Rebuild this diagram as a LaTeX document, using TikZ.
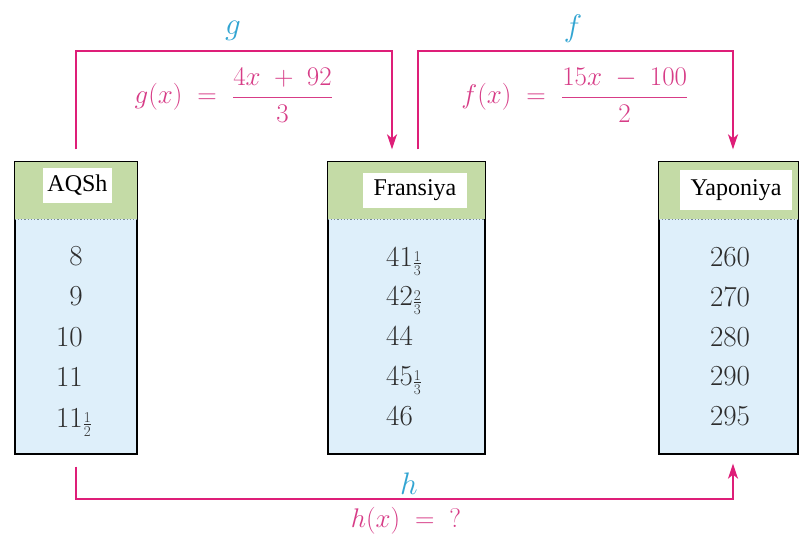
\documentclass[tikz,border=0pt]{standalone}
\usepackage{graphicx}
\usepackage{fontspec}
\newfontfamily\hdrfont{Liberation Serif}
\usetikzlibrary{arrows.meta}
\definecolor{lnpink}{RGB}{222,30,120}
\definecolor{fpink}{RGB}{215,60,135}
\definecolor{lblcyan}{RGB}{50,165,210}
\definecolor{hdrgreen}{RGB}{196,219,166}
\definecolor{bodyblue}{RGB}{222,239,250}
\definecolor{dotgray}{RGB}{120,140,150}
\definecolor{numgray}{RGB}{45,45,45}
\newcommand{\bigtxt}[2][1.3]{\scalebox{#1}{\fontsize{20.74}{24}\selectfont #2}}
\newcommand{\myfr}[2]{$\vcenter{\offinterlineskip\halign{\hfil\fontsize{15}{15}\selectfont##\hfil\cr #1\cr\noalign{\kern1.5pt\hrule height 0.7pt\kern1.5pt}#2\cr}}$}
\newcommand{\mixfr}[3]{\bigtxt[1.4]{#1}\kern1pt\myfr{#2}{#3}}
\begin{document}
\begin{tikzpicture}[x=1pt,y=-1pt,
 tbox/.style={draw=black,line width=1.3pt,fill=bodyblue,rectangle,inner sep=0pt},
 hlabel/.style={fill=white,inner sep=0pt,font=\hdrfont\fontsize{24}{26}\selectfont},
 num/.style={text=numgray,inner sep=0pt},
 conn/.style={draw=lnpink,line width=1.8pt},
 arr/.style={conn,-{Stealth[length=15pt,width=10pt,inset=4pt]}},
 fname/.style={text=lblcyan,inner sep=0pt},
 formula/.style={text=fpink,inner sep=0pt}]
\useasboundingbox[fill=white] (0,0) rectangle (801,535);

% boxes
\node[tbox,minimum width=122pt,minimum height=292pt] (A) at (76,308) {};
\node[tbox,minimum width=157pt,minimum height=292pt] (F) at (406.5,308) {};
\node[tbox,minimum width=139pt,minimum height=292pt] (Y) at (728.5,308) {};
\foreach \b in {A,F,Y} {
  \fill[hdrgreen] (\b.north west) rectangle ([yshift=-58pt]\b.north east);
  \draw[dotgray,line width=1.3pt,dotted] ([yshift=-58pt]\b.north west) -- ([yshift=-58pt]\b.north east);
  \draw[line width=1.3pt] (\b.north west) rectangle (\b.south east);
}

% header labels
\node[hlabel,minimum width=69pt,minimum height=35pt] (la) at (77.5,185.5) {AQSh};
\node[hlabel,minimum width=104pt,minimum height=35pt] (lf) at (415,190.5) {Fransiya};
\node[hlabel,minimum width=112pt,minimum height=40pt] (ly) at (736,190) {Yaponiya};

% numbers AQSh
\node[num,anchor=base east] (a1) at (83,265) {\bigtxt[1.4]{8}};
\node[num,anchor=base east] (a2) at (83,305) {\bigtxt[1.4]{9}};
\node[num,anchor=base east] (a3) at (83,346) {\bigtxt[1.4]{10}};
\node[num,anchor=base east] (a4) at (83,386) {\bigtxt[1.4]{11}};
\node[num,anchor=base west] (a5) at ([yshift=-41pt]a4.base west) {\mixfr{11}{1}{2}};
% numbers Fransiya
\node[num,anchor=base west] (f1) at (386,266) {\mixfr{41}{1}{3}};
\node[num,anchor=base west] (f2) at (386,305) {\mixfr{42}{2}{3}};
\node[num,anchor=base west] (f3) at (386,345) {\bigtxt[1.4]{44}};
\node[num,anchor=base west] (f4) at (386,385) {\mixfr{45}{1}{3}};
\node[num,anchor=base west] (f5) at (386,425) {\bigtxt[1.4]{46}};
% numbers Yaponiya
\node[num,anchor=base] (y1) at (730,266) {\bigtxt[1.4]{260}};
\node[num,anchor=base] (y2) at (730,306) {\bigtxt[1.4]{270}};
\node[num,anchor=base] (y3) at (730,346) {\bigtxt[1.4]{280}};
\node[num,anchor=base] (y4) at (730,385) {\bigtxt[1.4]{290}};
\node[num,anchor=base] (y5) at (730,425) {\bigtxt[1.4]{295}};

% connectors
\coordinate (top) at (0,51);
\coordinate (bot) at (0,499);
\draw[arr] ([yshift=12pt]A.north) -- (A.north |- top) -| ([xshift=-14.5pt,yshift=12pt]F.north);
\draw[arr] ([xshift=11.5pt,yshift=12pt]F.north) -- ([xshift=11.5pt]F.north |- top) -| ([xshift=4.5pt,yshift=12pt]Y.north);
\draw[arr] ([yshift=-12pt]A.south) -- (A.south |- bot) -| ([xshift=4.5pt,yshift=-9pt]Y.south);

% labels
\node[fname] (gl) at (233,31) {\bigtxt[1.5]{$g$}};
\node[fname] (fl) at (573,29) {\bigtxt[1.5]{$f$}};
\node[fname] (hl) at (409,484) {\bigtxt[1.5]{$h$}};
\node[formula] (gfm) at (234,95) {\bigtxt[1.3]{$g(x) \mathrel{\;=\;} \displaystyle\frac{4x \mathbin{\;+\;} 92}{3}$}};
\node[formula] (ffm) at (575,95) {\bigtxt[1.3]{$f(x) \mathrel{\;=\;} \displaystyle\frac{15x \mathbin{\;-\;} 100}{2}$}};
\node[formula] (hfm) at (406,521) {\bigtxt[1.3]{$h(x) \mathrel{\;=\;} {?}$}};
\end{tikzpicture}
\end{document}
